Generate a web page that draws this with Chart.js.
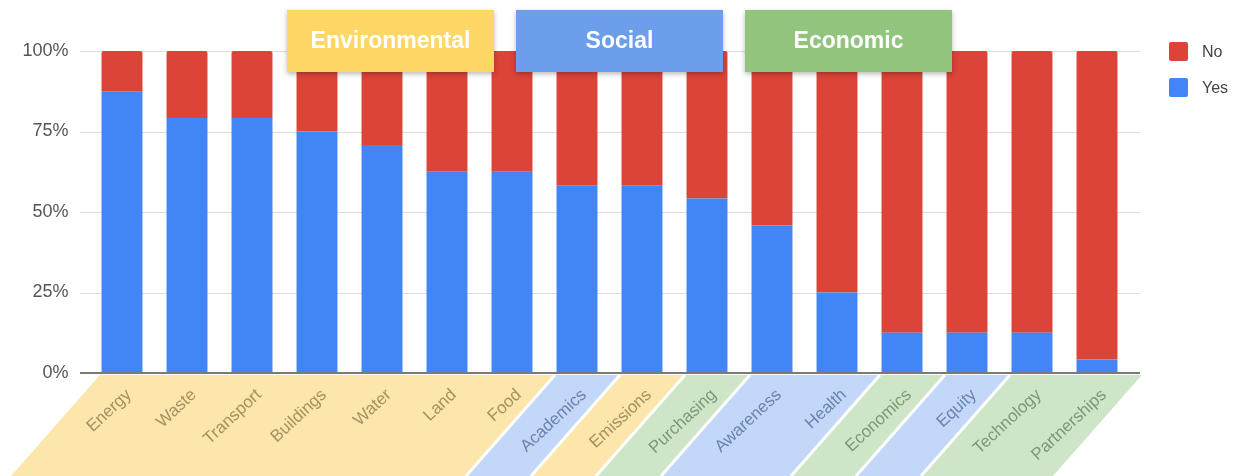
<!DOCTYPE html>
<html>
<head>
<meta charset="utf-8">
<title>Sustainability areas</title>
<script src="https://cdn.jsdelivr.net/npm/chart.js@4.4.0/dist/chart.umd.min.js"></script>
<style>
  html, body { margin: 0; padding: 0; background: #fff; }
</style>
</head>
<body>
<canvas id="pillarChart" width="1239" height="476"></canvas>
<script>
const categories = ['Energy', 'Waste', 'Transport', 'Buildings', 'Water', 'Land', 'Food', 'Academics',
    'Emissions', 'Purchasing', 'Awareness', 'Health', 'Economics', 'Equity', 'Technology', 'Partnerships']
const yesShare = [87.5, 79.2, 79.2, 75, 70.8, 62.5, 62.5, 58.3, 58.3, 54.2, 45.8, 25, 12.5, 12.5, 12.5, 4.2]
const noShare = [12.5, 20.8, 20.8, 25, 29.2, 37.5, 37.5, 41.7, 41.7, 45.8, 54.2, 75, 87.5, 87.5, 87.5, 95.8]
const categoryPillar = ['env', 'env', 'env', 'env', 'env', 'env', 'env', 'soc',
    'env', 'eco', 'soc', 'soc', 'eco', 'soc', 'eco', 'eco']
const pillarNames = ['Environmental', 'Social', 'Economic']
const yTicks = [0, 25, 50, 75, 100]

const pillarKeys = ['env', 'soc', 'eco']
const headerColors = { env: '#fed766', soc: '#6d9eeb', eco: '#93c47d' }
const bandColors = { env: '#fce6ab', soc: '#c3d7f8', eco: '#cee5c8' }
const labelColors = { env: '#a5915f', soc: '#6b84b0', eco: '#7b9a74' }

const FONT = "'Liberation Sans', Arial, sans-serif"
Chart.defaults.font.family = FONT

// slanted coloured strips behind the category labels
const bandPlugin = {
    id: 'bands',
    beforeDraw(chart) {
        const ctx = chart.ctx
        const x = chart.scales.x
        const area = chart.chartArea
        const top = area.bottom + 2
        const bottom = chart.height
        const step = x.getPixelForTick(1) - x.getPixelForTick(0)
        const lean = 0.88 * (bottom - top)
        const leftOf = i => x.getPixelForTick(i) - step * 0.34

        ctx.save()
        categoryPillar.forEach((p, i) => {
            const l = leftOf(i)
            const r = l + step + (i == categoryPillar.length - 1 ? 2 : 0.5)
            ctx.fillStyle = bandColors[p]
            ctx.beginPath()
            ctx.moveTo(l, top)
            ctx.lineTo(r, top)
            ctx.lineTo(r - lean, bottom)
            ctx.lineTo(l - lean, bottom)
            ctx.closePath()
            ctx.fill()
        })
        ctx.strokeStyle = '#fff'
        ctx.lineWidth = 3
        for (let i = 1; i < categoryPillar.length; i++) {
            if (categoryPillar[i] === categoryPillar[i - 1]) continue
            const l = leftOf(i)
            ctx.beginPath()
            ctx.moveTo(l, top)
            ctx.lineTo(l - lean, bottom)
            ctx.stroke()
        }
        ctx.restore()
    }
}

// horizontal grid, a little wider than the bar area
const gridPlugin = {
    id: 'wideGrid',
    beforeDatasetsDraw(chart) {
        const ctx = chart.ctx
        const y = chart.scales.y
        const area = chart.chartArea
        ctx.save()
        ctx.strokeStyle = '#dcdcdc'
        ctx.lineWidth = 1
        yTicks.forEach(v => {
            if (v === 0) return
            const py = Math.round(y.getPixelForValue(v)) + 0.5
            ctx.beginPath()
            ctx.moveTo(area.left - 9.5, py)
            ctx.lineTo(area.right + 10.5, py)
            ctx.stroke()
        })
        ctx.restore()
    },
    afterDatasetsDraw(chart) {
        const ctx = chart.ctx
        const area = chart.chartArea
        const py = chart.scales.y.getPixelForValue(0)
        ctx.save()
        ctx.strokeStyle = '#7a7a7a'
        ctx.lineWidth = 2
        ctx.beginPath()
        ctx.moveTo(area.left - 9.5, py)
        ctx.lineTo(area.right + 10.5, py)
        ctx.stroke()
        ctx.restore()
    }
}

// pillar header boxes and the legend
const overlayPlugin = {
    id: 'overlay',
    afterDraw(chart) {
        const ctx = chart.ctx
        ctx.save()
        pillarNames.forEach((name, i) => {
            const bx = 287 + i * 229
            ctx.shadowColor = 'rgba(0,0,0,0.28)'
            ctx.shadowBlur = 5
            ctx.shadowOffsetY = 2
            ctx.fillStyle = headerColors[pillarKeys[i]]
            ctx.fillRect(bx, 10, 207, 62)
            ctx.shadowColor = 'transparent'
            ctx.fillStyle = '#fff'
            ctx.font = `bold 23px ${FONT}`
            ctx.textAlign = 'center'
            ctx.textBaseline = 'middle'
            ctx.fillText(name, bx + 103.5, 42)
        })

        const sets = chart.data.datasets.slice().reverse()
        sets.forEach((ds, k) => {
            const cy = 51.5 + k * 36
            ctx.fillStyle = ds.backgroundColor
            ctx.beginPath()
            ctx.roundRect(1169, cy - 9.5, 19, 19, 2)
            ctx.fill()
            ctx.fillStyle = '#444'
            ctx.font = `16px ${FONT}`
            ctx.textAlign = 'left'
            ctx.textBaseline = 'middle'
            ctx.fillText(ds.label, 1202, cy + 1)
        })
        ctx.restore()
    }
}

const ctx = document.getElementById('pillarChart').getContext('2d')
new Chart(ctx, {
    type: 'bar',
    data: {
        labels: categories,
        datasets: [{
            label: 'Yes',
            data: yesShare,
            backgroundColor: '#4285f4',
            categoryPercentage: 1,
            barPercentage: 0.63
        }, {
            label: 'No',
            data: noShare,
            backgroundColor: '#db4437',
            categoryPercentage: 1,
            barPercentage: 0.63,
            borderRadius: { topLeft: 2, topRight: 2 },
            borderSkipped: 'bottom'
        }]
    },
    options: {
        responsive: false,
        animation: false,
        layout: { padding: { top: 51, right: 109.5, bottom: 0, left: 0 } },
        plugins: { legend: { display: false }, tooltip: { enabled: false } },
        scales: {
            x: {
                stacked: true,
                grid: { display: false, drawTicks: false },
                border: { display: false },
                ticks: {
                    autoSkip: false,
                    minRotation: 43,
                    maxRotation: 43,
                    padding: 12,
                    labelOffset: 7,
                    font: { size: 17 },
                    color: c => labelColors[categoryPillar[c.index]]
                },
                afterFit: s => { s.height = 103 }
            },
            y: {
                stacked: true,
                min: 0,
                max: 100,
                grid: { display: false, drawTicks: false },
                border: { display: false },
                afterBuildTicks: s => { s.ticks = yTicks.map(v => ({ value: v })) },
                ticks: {
                    padding: 21,
                    color: '#555',
                    font: { size: 18 },
                    callback: v => v + '%'
                },
                afterFit: s => { s.width = 89.5 }
            }
        }
    },
    plugins: [bandPlugin, gridPlugin, overlayPlugin]
})
</script>
</body>
</html>
